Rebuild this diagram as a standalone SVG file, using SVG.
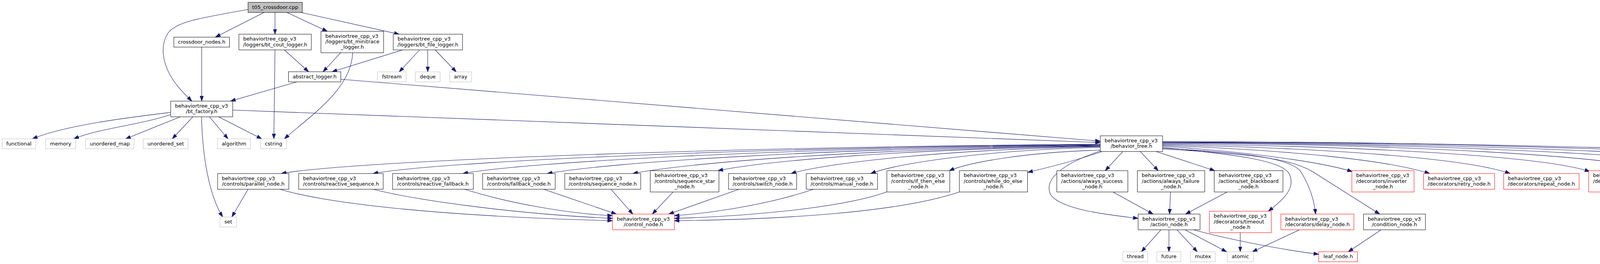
<svg xmlns="http://www.w3.org/2000/svg" width="5161" height="677" viewBox="0 0 5161 677">
<style>
rect{fill:#fff;stroke:#000;stroke-width:1}
.g rect{stroke:#bfbfbf}
.r rect{stroke:#f00}
.root rect{fill:#bfbfbf}
text{font-family:"DejaVu Sans","Liberation Sans",sans-serif;font-size:13px;fill:#000}
.c{text-anchor:middle}
#edges path{fill:none;stroke:#191970;stroke-width:1.1;marker-end:url(#a)}
</style>
<defs>
<marker id="a" markerUnits="userSpaceOnUse" markerWidth="14" markerHeight="10" viewBox="0 0 14 10" refX="13" refY="5" orient="auto"><path d="M0,0.5 L13,5 L0,9.5 z" fill="#191970" stroke="#191970" stroke-width="1"/></marker>
</defs>
<rect x="0" y="0" width="5161" height="677" style="stroke:none;fill:#fff"/>
<g id="edges">
<path d="M634.6,24.3 C520,45 450,55 430,85 C410,115 415,160 440,200 C455,225 475,243 491,259.3"/>
<path d="M676.5,31.7 L551.4,95.3"/>
<path d="M704,31.7 L704,87.7"/>
<path d="M734,31.7 L838,80.3"/>
<path d="M769.5,31.7 L1022,87.7"/>
<path d="M516.4,120.8 L516.4,259.3"/>
<path d="M728,128 L790,184"/>
<path d="M704,128 L701,356"/>
<path d="M872,135.3 L827,184"/>
<path d="M902.7,135.3 C900,230 790,300 728,356"/>
<path d="M1030.7,128 L850,184"/>
<path d="M1074.3,128 L1022,184.3"/>
<path d="M1095,128 L1095,184.3"/>
<path d="M1114,128 L1168,184.3"/>
<path d="M760,210 L590,259.3"/>
<path d="M872.4,203.3 L2816.7,362"/>
<path d="M595.7,282.3 L2816.7,365.5"/>
<path d="M436.4,288.3 C340,300 170,320 83,356"/>
<path d="M436.4,294 C360,320 250,330 189,356"/>
<path d="M462.3,299.3 L321.7,356"/>
<path d="M494,299.3 L441,356"/>
<path d="M516,299.3 C518,400 535,500 570,556.3"/>
<path d="M536,299.3 L583.7,356"/>
<path d="M559,299.3 L670,356"/>
<path d="M635,485.3 L593.6,556.3"/>
<path d="M2816.7,370 C1768,377.5 880,415 720,445"/>
<path d="M2816.7,371 C1886,378.4 1115,415.4 955,445"/>
<path d="M2816.7,372 C2001,379.3 1345,415.8 1185,445"/>
<path d="M2816.7,373 C2109,380.2 1561,416.2 1401,445"/>
<path d="M2816.7,374 C2218,381 1764,416.6 1620,445"/>
<path d="M2816.7,375 C2327,381.3 1955,412.8 1838,437.7"/>
<path d="M2816.7,376 C2421,383 2120,417.4 2025,445"/>
<path d="M2816.7,378 C2523,384.7 2300,418.2 2229,445"/>
<path d="M2816.7,385 C2623,390.3 2476,417.4 2430,438"/>
<path d="M2822,388.3 C2760,410 2690,428 2631,442"/>
<path d="M2817,387 C2720,420 2670,460 2690,500 C2720,540 2850,552 2913.6,560"/>
<path d="M2874.5,388.3 L2829.4,437.7"/>
<path d="M2919,388.3 L2965,437.7"/>
<path d="M2958.7,388.3 L3110,437.7"/>
<path d="M2976,378 C3150,395 3280,410 3300,445 C3320,485 3280,515 3247,541.7"/>
<path d="M2976,380 C3150,390 3300,400 3330,440 C3355,480 3365,520 3368,549"/>
<path d="M2976,382 C3200,395 3300,405 3360,440 L3532,549"/>
<path d="M2976,375 C3200,390 3380,415 3462,440"/>
<path d="M2976,373 C3300,385 3550,410 3660,445"/>
<path d="M2976,371 C3400,380 3750,405 3866,445"/>
<path d="M2976,369 C3500,375 3950,400 4070,440"/>
<path d="M2976,367 C3600,370 4150,400 4250,440"/>
<path d="M2976,366 C3700,368 4350,400 4466,440"/>
<path d="M2976,365 C3800,366 4550,400 4671,440"/>
<path d="M2976,364 C3900,364 4750,400 4882,440"/>
<path d="M2976,363 C4000,365 4900,400 5040,430 C5070,437 5085,445 5091,452.3"/>
<path d="M716,485.3 C850,525 1150,555 1567.9,566"/>
<path d="M955,485.3 C1050,510 1300,548 1567.9,560"/>
<path d="M1189,485.3 C1300,520 1450,548 1567.9,553"/>
<path d="M1391.5,485.3 L1578,549"/>
<path d="M1564,485.3 L1620,549"/>
<path d="M1723,492.3 L1670,549"/>
<path d="M1892,485.3 L1712,549"/>
<path d="M2083,485.3 C1950,530 1800,548 1726.4,553"/>
<path d="M2270,492.3 C2150,535 1900,555 1726.4,560"/>
<path d="M2456,492.3 C2300,545 2000,563 1726.4,566"/>
<path d="M2849,492.3 L2952,549"/>
<path d="M2996.5,492.3 L2994,549"/>
<path d="M3141.7,492.3 L3035,549"/>
<path d="M2972,589.3 L2922,645.7"/>
<path d="M2992.5,589.3 L2992.5,645.7"/>
<path d="M3013,589.3 L3065,645.7"/>
<path d="M3033.7,589.3 L3140,645.7"/>
<path d="M3055,589.3 C3150,615 3280,640 3375.9,652"/>
<path d="M3175,596.7 L3175,645.7"/>
<path d="M3326.8,589.3 L3206,645.7"/>
<path d="M3535.7,589.3 L3451.5,645.7"/>
</g>
<g id="t05_crossdoor" class="root"><rect x="635" y="6" width="139" height="26"/><text class="c" x="704.5" y="22.5">t05_crossdoor.cpp</text></g>
<g id="crossdoor_nodes"><rect x="445" y="95.3" width="142.5" height="25.5"/><text class="c" x="516.25" y="111.8">crossdoor_nodes.h</text></g>
<g id="bt_cout_logger"><rect x="611.6" y="87.7" width="185.4" height="40.3"/><text x="622.6" y="104.2">behaviortree_cpp_v3</text><text class="c" x="704.3" y="118.5">/loggers/bt_cout_logger.h</text></g>
<g id="bt_minitrace_logger"><rect x="821.7" y="80.3" width="160.3" height="55"/><text x="832.7" y="96.8">behaviortree_cpp_v3</text><text x="832.7" y="111.1">/loggers/bt_minitrace</text><text class="c" x="901.85" y="125.4">_logger.h</text></g>
<g id="bt_file_logger"><rect x="1006.7" y="87.7" width="177.3" height="40.3"/><text x="1017.7" y="104.2">behaviortree_cpp_v3</text><text class="c" x="1095.35" y="118.5">/loggers/bt_file_logger.h</text></g>
<g id="abstract_logger"><rect x="738.5" y="184" width="134" height="26"/><text class="c" x="805.5" y="200.5">abstract_logger.h</text></g>
<g id="fstream" class="g"><rect x="966" y="184.3" width="74" height="25.7"/><text class="c" x="1003" y="200.8">fstream</text></g>
<g id="deque" class="g"><rect x="1063.3" y="184.3" width="63.4" height="25.7"/><text class="c" x="1095" y="200.8">deque</text></g>
<g id="array" class="g"><rect x="1151" y="184.3" width="56.3" height="25.7"/><text class="c" x="1179.15" y="200.8">array</text></g>
<g id="bt_factory"><rect x="437" y="259.3" width="158.7" height="40.3"/><text x="448" y="275.8">behaviortree_cpp_v3</text><text class="c" x="516.35" y="290.1">/bt_factory.h</text></g>
<g id="functional" class="g"><rect x="5.3" y="356" width="86.2" height="25.5"/><text class="c" x="48.4" y="372.5">functional</text></g>
<g id="memory" class="g"><rect x="116.7" y="356" width="77" height="25.5"/><text class="c" x="155.2" y="372.5">memory</text></g>
<g id="unordered_map" class="g"><rect x="218.9" y="356" width="124" height="25.5"/><text class="c" x="280.9" y="372.5">unordered_map</text></g>
<g id="unordered_set" class="g"><rect x="366.8" y="356" width="114.7" height="25.5"/><text class="c" x="424.15" y="372.5">unordered_set</text></g>
<g id="algorithm" class="g"><rect x="556.5" y="356" width="85" height="25.5"/><text class="c" x="599" y="372.5">algorithm</text></g>
<g id="cstring" class="g"><rect x="667.2" y="356" width="66.4" height="25.5"/><text class="c" x="700.4" y="372.5">cstring</text></g>
<g id="behavior_tree"><rect x="2816.7" y="348.3" width="159.5" height="40.3"/><text x="2827.7" y="364.8">behaviortree_cpp_v3</text><text class="c" x="2896.45" y="379.1">/behavior_tree.h</text></g>
<g id="parallel_node"><rect x="557.1" y="445" width="182.4" height="40.3"/><text x="568.1" y="461.5">behaviortree_cpp_v3</text><text class="c" x="648.3" y="475.8">/controls/parallel_node.h</text></g>
<g id="reactive_sequence"><rect x="764.7" y="445" width="216.3" height="40.3"/><text x="775.7" y="461.5">behaviortree_cpp_v3</text><text class="c" x="872.85" y="475.8">/controls/reactive_sequence.h</text></g>
<g id="reactive_fallback"><rect x="1005" y="445" width="206.7" height="40.3"/><text x="1016" y="461.5">behaviortree_cpp_v3</text><text class="c" x="1108.35" y="475.8">/controls/reactive_fallback.h</text></g>
<g id="fallback_node"><rect x="1235.6" y="445" width="185.7" height="40.3"/><text x="1246.6" y="461.5">behaviortree_cpp_v3</text><text class="c" x="1328.45" y="475.8">/controls/fallback_node.h</text></g>
<g id="sequence_node"><rect x="1445.9" y="445" width="194.3" height="40.3"/><text x="1456.9" y="461.5">behaviortree_cpp_v3</text><text class="c" x="1543.05" y="475.8">/controls/sequence_node.h</text></g>
<g id="sequence_star_node"><rect x="1664.7" y="437.7" width="175.8" height="54.6"/><text x="1675.7" y="454.2">behaviortree_cpp_v3</text><text x="1675.7" y="468.5">/controls/sequence_star</text><text class="c" x="1752.6" y="482.8">_node.h</text></g>
<g id="switch_node"><rect x="1865" y="445" width="174.5" height="40.3"/><text x="1876" y="461.5">behaviortree_cpp_v3</text><text class="c" x="1952.25" y="475.8">/controls/switch_node.h</text></g>
<g id="manual_node"><rect x="2064" y="445" width="182.4" height="40.3"/><text x="2075" y="461.5">behaviortree_cpp_v3</text><text class="c" x="2155.2" y="475.8">/controls/manual_node.h</text></g>
<g id="if_then_else_node"><rect x="2270.3" y="437.7" width="161.1" height="54.6"/><text x="2281.3" y="454.2">behaviortree_cpp_v3</text><text x="2281.3" y="468.5">/controls/if_then_else</text><text class="c" x="2350.85" y="482.8">_node.h</text></g>
<g id="while_do_else_node"><rect x="2456" y="437.7" width="174.4" height="54.6"/><text x="2467" y="454.2">behaviortree_cpp_v3</text><text x="2467" y="468.5">/controls/while_do_else</text><text class="c" x="2543.2" y="482.8">_node.h</text></g>
<g id="always_success_node"><rect x="2705.5" y="437.7" width="181.8" height="54.6"/><text x="2716.5" y="454.2">behaviortree_cpp_v3</text><text x="2716.5" y="468.5">/actions/always_success</text><text class="c" x="2796.4" y="482.8">_node.h</text></g>
<g id="always_failure_node"><rect x="2911.7" y="437.7" width="172.4" height="54.6"/><text x="2922.7" y="454.2">behaviortree_cpp_v3</text><text x="2922.7" y="468.5">/actions/always_failure</text><text class="c" x="2997.9" y="482.8">_node.h</text></g>
<g id="set_blackboard_node"><rect x="3108.4" y="437.7" width="175.9" height="54.6"/><text x="3119.4" y="454.2">behaviortree_cpp_v3</text><text x="3119.4" y="468.5">/actions/set_blackboard</text><text class="c" x="3196.35" y="482.8">_node.h</text></g>
<g id="inverter_node" class="r"><rect x="3460.8" y="437.7" width="159.2" height="54.6"/><text x="3471.8" y="454.2">behaviortree_cpp_v3</text><text x="3471.8" y="468.5">/decorators/inverter</text><text class="c" x="3540.4" y="482.8">_node.h</text></g>
<g id="retry_node" class="r"><rect x="3644.5" y="445" width="181.7" height="40.3"/><text x="3655.5" y="461.5">behaviortree_cpp_v3</text><text class="c" x="3735.35" y="475.8">/decorators/retry_node.h</text></g>
<g id="repeat_node" class="r"><rect x="3849.4" y="445" width="193" height="40.3"/><text x="3860.4" y="461.5">behaviortree_cpp_v3</text><text class="c" x="3945.9" y="475.8">/decorators/repeat_node.h</text></g>
<g id="subtree_node" class="r"><rect x="4067" y="437.7" width="158" height="54.6"/><text x="4078" y="454.2">behaviortree_cpp_v3</text><text x="4078" y="468.5">/decorators/subtree</text><text class="c" x="4146" y="482.8">_node.h</text></g>
<g id="force_success_node" class="r"><rect x="4248.8" y="437.7" width="191.2" height="54.6"/><text x="4259.8" y="454.2">behaviortree_cpp_v3</text><text x="4259.8" y="468.5">/decorators/force_success</text><text class="c" x="4344.4" y="482.8">_node.h</text></g>
<g id="force_failure_node" class="r"><rect x="4464.6" y="437.7" width="181.2" height="54.6"/><text x="4475.6" y="454.2">behaviortree_cpp_v3</text><text x="4475.6" y="468.5">/decorators/force_failure</text><text class="c" x="4555.2" y="482.8">_node.h</text></g>
<g id="keep_running_node" class="r"><rect x="4669.7" y="437.7" width="186.5" height="54.6"/><text x="4680.7" y="454.2">behaviortree_cpp_v3</text><text x="4680.7" y="468.5">/decorators/keep_running</text><text class="c" x="4762.95" y="482.8">_until_failure_node.h</text></g>
<g id="blackboard_precondition" class="r"><rect x="4880.1" y="437.7" width="170.7" height="54.6"/><text x="4891.1" y="454.2">behaviortree_cpp_v3</text><text x="4891.1" y="468.5">/decorators/blackboard</text><text class="c" x="4965.45" y="482.8">_precondition.h</text></g>
<g id="iostream" class="g"><rect x="5075.3" y="452.3" width="79.7" height="25.7"/><text class="c" x="5115.15" y="468.8">iostream</text></g>
<g id="set" class="g"><rect x="563.1" y="556.3" width="42.5" height="25.7"/><text class="c" x="584.35" y="572.8">set</text></g>
<g id="control_node" class="r"><rect x="1567.9" y="549" width="158.5" height="40.3"/><text x="1578.9" y="565.5">behaviortree_cpp_v3</text><text class="c" x="1647.15" y="579.8">/control_node.h</text></g>
<g id="action_node"><rect x="2913.6" y="549" width="158.5" height="40.3"/><text x="2924.6" y="565.5">behaviortree_cpp_v3</text><text class="c" x="2992.85" y="579.8">/action_node.h</text></g>
<g id="timeout_node" class="r"><rect x="3096" y="541.7" width="158.5" height="55"/><text x="3107" y="558.2">behaviortree_cpp_v3</text><text x="3107" y="572.5">/decorators/timeout</text><text class="c" x="3175.25" y="586.8">_node.h</text></g>
<g id="delay_node" class="r"><rect x="3279" y="549" width="187" height="40.3"/><text x="3290" y="565.5">behaviortree_cpp_v3</text><text class="c" x="3372.5" y="579.8">/decorators/delay_node.h</text></g>
<g id="condition_node"><rect x="3490.6" y="549" width="158.5" height="40.3"/><text x="3501.6" y="565.5">behaviortree_cpp_v3</text><text class="c" x="3569.85" y="579.8">/condition_node.h</text></g>
<g id="thread" class="g"><rect x="2874.5" y="645.7" width="63.7" height="25.6"/><text class="c" x="2906.35" y="662.2">thread</text></g>
<g id="future" class="g"><rect x="2961.4" y="645.7" width="61.7" height="25.6"/><text class="c" x="2992.25" y="662.2">future</text></g>
<g id="mutex" class="g"><rect x="3047.6" y="645.7" width="63.6" height="25.6"/><text class="c" x="3079.4" y="662.2">mutex</text></g>
<g id="atomic" class="g"><rect x="3141.7" y="645.7" width="67" height="25.6"/><text class="c" x="3175.2" y="662.2">atomic</text></g>
<g id="leaf_node" class="r"><rect x="3375.9" y="645.7" width="99.5" height="25.6"/><text class="c" x="3425.65" y="662.2">leaf_node.h</text></g>
</svg>
